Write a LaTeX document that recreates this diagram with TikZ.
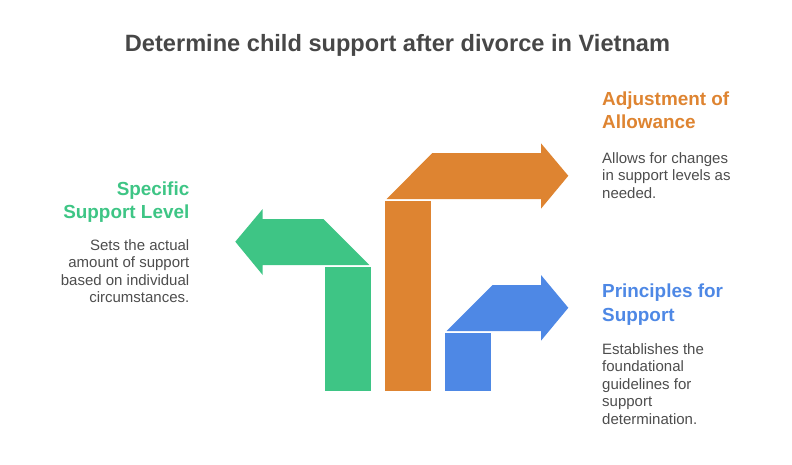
\documentclass[tikz,border=0pt]{standalone}
\usepackage{fontspec}
\setmainfont{Liberation Sans}
\usetikzlibrary{positioning}
\definecolor{titlegray}{HTML}{474747}
\definecolor{textgray}{HTML}{4D4D4D}
\definecolor{levelgreen}{HTML}{3EC585}
\definecolor{adjorange}{HTML}{DE8431}
\definecolor{princblue}{HTML}{4E88E5}
\tikzset{
  head/.style={font=\bfseries\fontsize{18.9}{23.5}\selectfont, inner sep=0pt},
  desc/.style={font=\fontsize{15}{17.6}\selectfont, text=textgray, inner sep=0pt},
}
\begin{document}
\begin{tikzpicture}[x=1pt, y=-1pt]
	\useasboundingbox (0,0) rectangle (792,464);
	% Place nodes
	\node [anchor=base, font=\bfseries\fontsize{23.6}{28}\selectfont, text=titlegray] (title) at (397.5,51.7) {Determine child support after divorce in Vietnam};

	\node [head, text=levelgreen, anchor=north east, align=right] (levelhead) at (189.5,181.2) {Specific\\Support Level};
	\node [desc, anchor=north east, align=right] (leveldesc) at (189.5,239) {Sets the actual\\amount of support\\based on individual\\circumstances.};

	\node [head, text=adjorange, anchor=north west, align=left] (adjhead) at (602,91.2) {Adjustment of\\Allowance};
	\node [desc, anchor=north west, align=left] (adjdesc) at (602,152) {Allows for changes\\in support levels as\\needed.};

	\node [head, text=princblue, anchor=north west, align=left] (princhead) at (602,283.9) {Principles for\\Support};
	\node [desc, anchor=north west, align=left] (princdesc) at (602,343) {Establishes the\\foundational\\guidelines for\\support\\determination.};

	% green bar and arrow
	\fill [levelgreen] (325,267) rectangle (371,391);
	\fill [levelgreen] (369.3,265) -- (323.3,219) -- (262.7,219) -- (262.7,209) -- (235.3,241.7) -- (262.7,275) -- (262.7,265) -- cycle;

	% orange bar and arrow
	\fill [adjorange] (385,201) rectangle (431,391);
	\fill [adjorange] (386.7,199) -- (432.3,153) -- (541,153) -- (541,143.3) -- (568.3,175.8) -- (541,208.7) -- (541,199) -- cycle;

	% blue bar and arrow
	\fill [princblue] (445,333) rectangle (491,391);
	\fill [princblue] (446.7,331) -- (492.7,285) -- (541,285) -- (541,275) -- (568.3,307.8) -- (541,340.7) -- (541,331) -- cycle;
\end{tikzpicture}
\end{document}
